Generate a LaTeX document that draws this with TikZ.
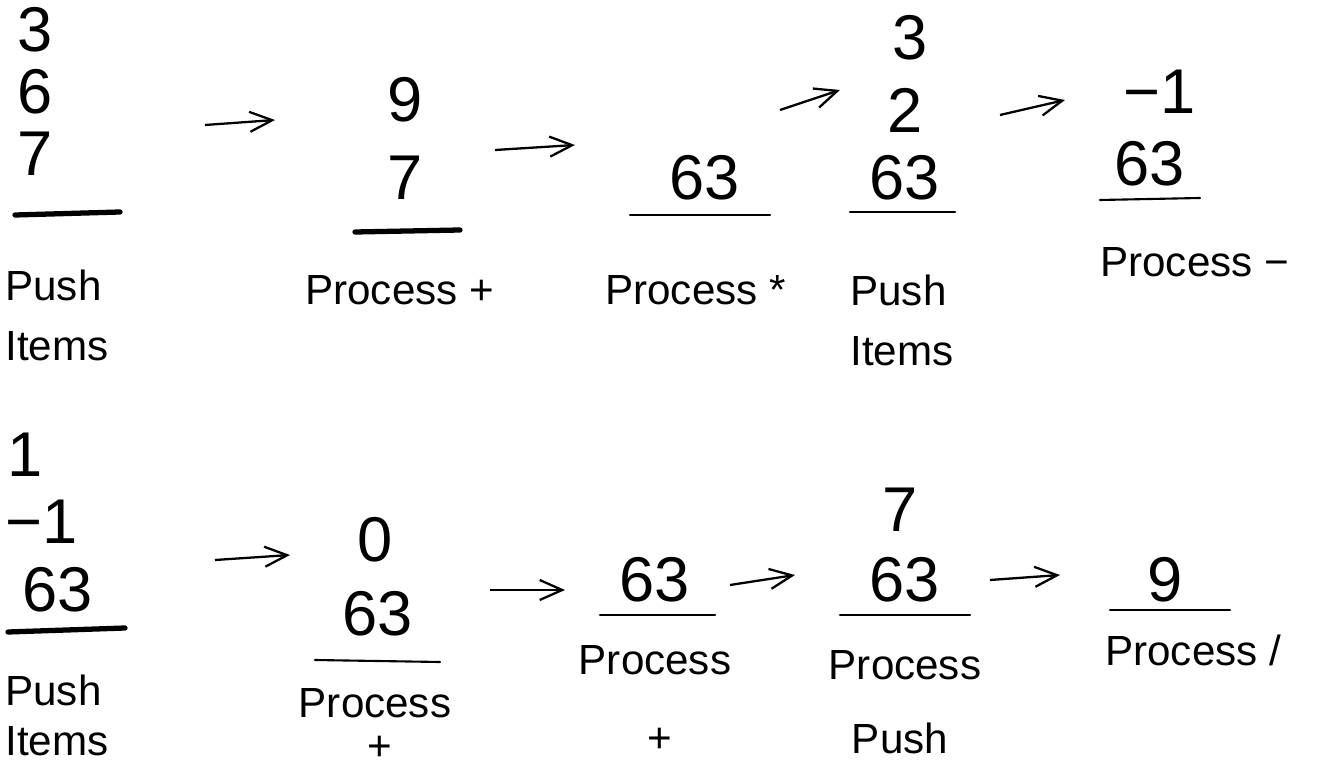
\documentclass[tikz,border=0pt]{standalone}
\usepackage{fontspec}
\setmainfont{Liberation Sans}
\usetikzlibrary{arrows.meta, positioning}

\begin{document}
\begin{tikzpicture}[
  x=0.02cm, y=-0.02cm,
  >={Straight Barb[length=4.5mm, width=4mm]},
  step arrow/.style={->, line width=1.3pt, draw=black},
  digit/.style={font=\fontsize{36}{38}\selectfont, inner sep=0pt},
  caption/.style={font=\fontsize{24}{26}\selectfont, inner sep=0pt},
  bar/.style={line width=1.2pt, line cap=round},
  heavy bar/.style={line width=3pt, line cap=round}
]
  \useasboundingbox (0,0) rectangle (1333,770);

  % --- Ligne du haut ---
  \node[digit] (s1a) at (35,30) {3};
  \node[digit] (s1b) at (35,92) {6};
  \node[digit] (s1c) at (35,154) {7};
  \draw[heavy bar] (15,215) -- (120,212);
  \node[caption, anchor=west] (s1p) at (5,285) {Push};
  \node[caption, below=6mm of s1p.south west, anchor=north west] (s1i) {Items};

  \node[digit] (s2a) at (405,100) {9};
  \node[digit] (s2b) at (405,178) {7};
  \draw[heavy bar] (355,232) -- (460,230);
  \node[caption, anchor=west] (s2p) at (305,290) {Process +};

  \node[digit] (s3a) at (705,178) {63};
  \draw[bar] (630,215) -- (770,215);
  \node[caption, anchor=west] (s3p) at (605,290) {Process *};

  \node[digit] (s4a) at (910,38) {3};
  \node[digit] (s4b) at (905,110) {2};
  \node[digit] (s4c) at (905,178) {63};
  \draw[bar] (850,212) -- (955,212);
  \node[caption, anchor=west] (s4p) at (850,290) {Push};
  \node[caption, below=6mm of s4p.south west, anchor=north west] (s4i) {Items};

  \node[digit] (s5a) at (1160,92) {−1};
  \node[digit] (s5b) at (1150,164) {63};
  \draw[bar] (1100,200) -- (1200,198);
  \node[caption, anchor=west] (s5p) at (1100,262) {Process −};

  % --- Ligne du bas ---
  \node[digit] (s6a) at (25,455) {1};
  \node[digit] (s6b) at (42,522) {−1};
  \node[digit] (s6c) at (58,590) {63};
  \draw[heavy bar] (8,632) -- (125,628);
  \node[caption, anchor=west] (s6p) at (5,690) {Push};
  \node[caption, below=4mm of s6p.south west, anchor=north west] (s6i) {Items};

  \node[digit] (s7a) at (375,540) {0};
  \node[digit] (s7b) at (378,614) {63};
  \draw[bar] (315,660) -- (440,662);
  \node[caption] (s7p) at (375,703) {Process};
  \node[caption] (s7q) at (380,748) {+};

  \node[digit] (s8a) at (655,580) {63};
  \draw[bar] (600,615) -- (715,615);
  \node[caption] (s8p) at (655,660) {Process};
  \node[caption] (s8q) at (660,740) {+};

  \node[digit] (s9a) at (900,510) {7};
  \node[digit] (s9b) at (905,580) {63};
  \draw[bar] (840,615) -- (970,615);
  \node[caption] (s9p) at (905,665) {Process};
  \node[caption] (s9q) at (900,738) {Push};

  \node[digit] (s10a) at (1165,580) {9};
  \draw[bar] (1110,610) -- (1230,610);
  \node[caption, anchor=west] (s10p) at (1105,650) {Process /};

  % --- Fleches ---
  \coordinate (a1s) at (205,125); \coordinate (a1e) at (275,120);
  \coordinate (a2s) at (495,150); \coordinate (a2e) at (575,145);
  \coordinate (a3s) at (780,110); \coordinate (a3e) at (840,90);
  \coordinate (a4s) at (1000,115); \coordinate (a4e) at (1065,100);
  \coordinate (a5s) at (215,560); \coordinate (a5e) at (290,555);
  \coordinate (a6s) at (490,590); \coordinate (a6e) at (565,590);
  \coordinate (a7s) at (730,585); \coordinate (a7e) at (795,575);
  \coordinate (a8s) at (990,580); \coordinate (a8e) at (1060,575);

  \foreach \i in {1,...,8}
    \draw[step arrow] (a\i s) -- (a\i e);

\end{tikzpicture}
\end{document}
